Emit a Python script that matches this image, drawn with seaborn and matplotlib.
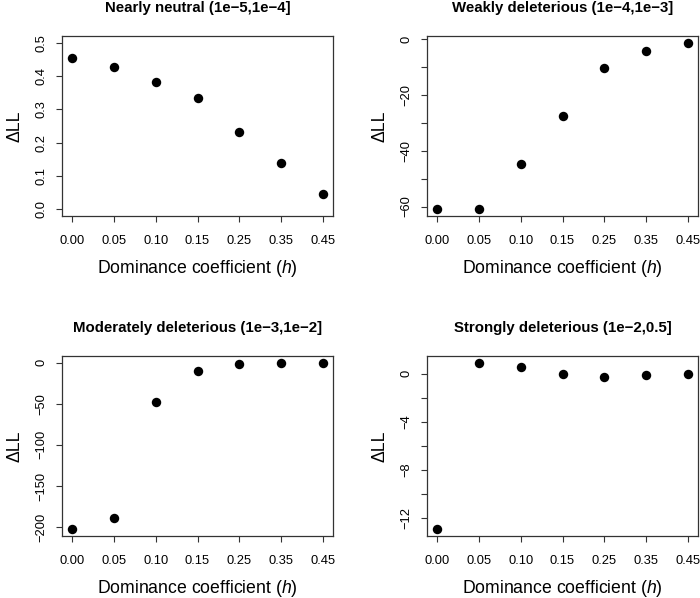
import matplotlib
matplotlib.use("Agg")
import matplotlib.pyplot as plt
import seaborn as sns

# dominance coefficient categories (x axis)
h_labels = ["0.00", "0.05", "0.10", "0.15", "0.25", "0.35", "0.45"]

# delta log-likelihood per selection class
dll_neutral = [0.453, 0.427, 0.383, 0.333, 0.233, 0.138, 0.045]
dll_weak = [-61.0, -60.8, -44.6, -27.4, -10.2, -4.1, -1.2]
dll_moderate = [-202.8, -189.5, -48.1, -10.1, -2.0, -0.4, 0.0]
dll_strong = [-12.97, 0.92, 0.58, -0.03, -0.25, -0.11, -0.03]

titles = ["Nearly neutral (1e\u22125,1e\u22124]",
          "Weakly deleterious (1e\u22124,1e\u22123]",
          "Moderately deleterious (1e\u22123,1e\u22122]",
          "Strongly deleterious (1e\u22122,0.5]"]

# y ticks and which of them get a label
yticks_neutral = [0.0, 0.1, 0.2, 0.3, 0.4, 0.5]
yticks_weak = [-60, -50, -40, -30, -20, -10, 0]
yticks_moderate = [-200, -150, -100, -50, 0]
yticks_strong = [-12, -10, -8, -6, -4, -2, 0]
ylabels_weak = [-60, -40, -20, 0]
ylabels_strong = [-12, -8, -4, 0]

sns.set_style("ticks")
plt.rcParams["font.family"] = ["Liberation Sans", "DejaVu Sans"]
plt.rcParams["mathtext.fontset"] = "custom"
plt.rcParams["mathtext.rm"] = "Liberation Sans"
plt.rcParams["mathtext.it"] = "Liberation Sans:italic"
plt.rcParams["text.color"] = "black"
plt.rcParams["axes.labelcolor"] = "black"
plt.rcParams["xtick.color"] = "black"
plt.rcParams["ytick.color"] = "black"


def fmt(v):
    s = f"{v:.1f}" if isinstance(v, float) else str(v)
    return s.replace("-", "\u2212")


fig = plt.figure(figsize=(7.0, 5.98), dpi=100)

W, H = 700, 598
boxes = [(62, 36, 333, 216), (427, 36, 698, 216),
         (62, 356, 333, 536), (427, 356, 698, 536)]

panels = [
    (dll_neutral, yticks_neutral, yticks_neutral, (0.0, 0.5)),
    (dll_weak, yticks_weak, ylabels_weak, None),
    (dll_moderate, yticks_moderate, yticks_moderate, None),
    (dll_strong, yticks_strong, ylabels_strong, None),
]

for i, (vals, yt, ylab_show, yr) in enumerate(panels):
    x0, y0, x1, y1 = boxes[i]
    ax = fig.add_axes([x0 / W, 1 - y1 / H, (x1 - x0) / W, (y1 - y0) / H])
    sns.stripplot(x=h_labels, y=vals, order=h_labels, jitter=False,
                  color="black", size=6.8, linewidth=0, ax=ax)

    # R style axis ranges (4% padding)
    lo, hi = yr if yr is not None else (min(vals), max(vals))
    pad = 0.04 * (hi - lo)
    ax.set_ylim(lo - pad, hi + pad)
    ax.set_xlim(-0.24, 6.24)

    ax.set_yticks(yt)
    ax.set_yticklabels([fmt(v) if v in ylab_show else "" for v in yt])

    for s in ax.spines.values():
        s.set_visible(True)
        s.set_color("#333333")
        s.set_linewidth(0.9)

    ax.tick_params(axis="both", direction="out", length=4.5, width=0.8,
                   color="#333333", labelcolor="black", labelsize=9.3)
    ax.tick_params(axis="x", pad=9)
    ax.tick_params(axis="y", pad=6)
    for lab in ax.get_yticklabels():
        lab.set_rotation(90)
        lab.set_va("center")

    ax.set_xlabel("Dominance coefficient ($\\mathit{h}$)", fontsize=12.7, va="center")
    ax.xaxis.set_label_coords(0.5, -0.29)
    ax.set_ylabel("\u0394LL", fontsize=12.7, va="center")
    ax.yaxis.set_label_coords(-0.175, 0.5)
    ax.set_title(titles[i], fontsize=10.8, fontweight="bold", y=1.155, pad=0, va="center")

plt.savefig("out.png", dpi=100)
plt.close()
